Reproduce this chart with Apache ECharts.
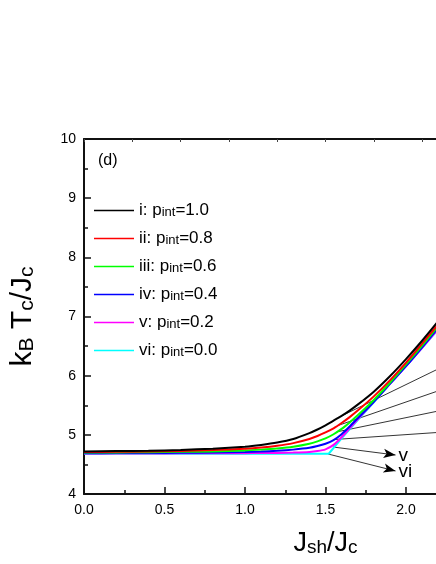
<!DOCTYPE html>
<html><head><meta charset="utf-8">
<script src="https://cdn.jsdelivr.net/npm/echarts@6/dist/echarts.min.js"></script>
<style>html,body{margin:0;padding:0;background:#fff}#c{width:436px;height:564px}</style>
</head><body><div id="c"></div>
<script>
// ---- data ----
const xs = [0, 0.2, 0.4, 0.6, 0.8, 1.0, 1.1, 1.2, 1.3, 1.4, 1.45, 1.5, 1.55, 1.6, 1.65, 1.7, 1.8, 1.9, 2.0, 2.1, 2.2, 2.3, 2.4];
const yI   = [4.72, 4.725, 4.73, 4.745, 4.765, 4.80, 4.83, 4.87, 4.93, 5.03, 5.09, 5.16, 5.24, 5.32, 5.41, 5.51, 5.73, 5.99, 6.28, 6.59, 6.92, 7.26, 7.60];
const yII  = [4.71, 4.713, 4.718, 4.728, 4.742, 4.765, 4.785, 4.815, 4.86, 4.93, 4.98, 5.04, 5.11, 5.20, 5.30, 5.41, 5.65, 5.92, 6.22, 6.54, 6.87, 7.21, 7.55];
const yIII = [4.70, 4.702, 4.706, 4.712, 4.72, 4.735, 4.75, 4.77, 4.80, 4.85, 4.89, 4.94, 5.01, 5.10, 5.21, 5.33, 5.59, 5.88, 6.19, 6.51, 6.84, 7.18, 7.52];
const yIV  = [4.69, 4.691, 4.693, 4.696, 4.70, 4.71, 4.718, 4.73, 4.75, 4.78, 4.81, 4.85, 4.91, 5.01, 5.14, 5.28, 5.56, 5.86, 6.16, 6.48, 6.81, 7.15, 7.49];
const yV   = [4.685, 4.685, 4.686, 4.687, 4.688, 4.69, 4.692, 4.695, 4.70, 4.71, 4.725, 4.755, 4.83, 4.96, 5.11, 5.26, 5.56, 5.86, 6.16, 6.47, 6.79, 7.12, 7.45];
const xsVI = [0, 1.0, 1.52, 1.6, 1.7, 1.8, 1.9, 2.0, 2.1, 2.2, 2.3, 2.4];
const yVI  = [4.68, 4.68, 4.68, 4.94, 5.25, 5.55, 5.86, 6.16, 6.47, 6.78, 7.09, 7.40];

const seriesNames = ['i', 'ii', 'iii', 'iv', 'v', 'vi'];
const pintValues = ['1.0', '0.8', '0.6', '0.4', '0.2', '0.0'];
const seriesColors = ['#000000', '#ff0000', '#00ff00', '#0000ff', '#ff00ff', '#00ffff'];

const leaderStarts = [[1.60, 5.32], [1.58, 5.16], [1.57, 5.05], [1.55, 4.92]];
const leaderEnds   = [[2.25, 6.18], [2.25, 5.79], [2.25, 5.43], [2.25, 5.05]];
const arrowStarts = [[1.547, 4.794], [1.516, 4.676]];
const arrowEnds   = [[1.935, 4.659], [1.935, 4.389]];
const arrowLabels = ['v', 'vi'];

const panelLabel = '(d)';

// ---- chart ----
const FONT = 'Liberation Sans, Arial, sans-serif';
const chart = echarts.init(document.getElementById('c'), null, {renderer: 'canvas'});

function pairs(xarr, yarr) { return xarr.map((x, i) => [x, yarr[i]]); }
const ysets = [yI, yII, yIII, yIV, yV];

const series = seriesNames.map((n, i) => ({
  name: n,
  type: 'line',
  data: i < 5 ? pairs(xs, ysets[i]) : pairs(xsVI, yVI),
  showSymbol: false,
  symbol: 'none',
  smooth: i < 5 ? 0.2 : false,
  lineStyle: {color: seriesColors[i], width: 2},
  itemStyle: {color: seriesColors[i]},
  z: 10 - i,
  silent: true
}));

const mlData = [];
leaderStarts.forEach((s, i) => {
  mlData.push([{coord: s, symbol: 'none'}, {coord: leaderEnds[i], symbol: 'none', label: {show: false}}]);
});
arrowStarts.forEach((s, i) => {
  mlData.push([{coord: s, symbol: 'none'}, {coord: arrowEnds[i], symbol: 'arrow', symbolSize: [7, 12],
    label: {show: true, position: 'end', distance: 3, formatter: arrowLabels[i], fontSize: 19, fontFamily: FONT, color: '#000'}}]);
});

series.push({
  type: 'line',
  data: [],
  silent: true,
  markLine: {
    silent: true,
    animation: false,
    symbol: ['none', 'none'],
    lineStyle: {color: '#000', width: 0.8, type: 'solid'},
    label: {show: false},
    emphasis: {disabled: true},
    data: mlData
  }
});

const subRichSmall = {
  m: {fontSize: 17, lineHeight: 17, verticalAlign: 'top', fontFamily: FONT, color: '#000'},
  s: {fontSize: 13, lineHeight: 13, verticalAlign: 'bottom', padding: [9, 0, 0, 0], fontFamily: FONT, color: '#000'}
};
const subRichX = {
  m: {fontSize: 27, lineHeight: 27, verticalAlign: 'top', fontFamily: FONT, color: '#000'},
  s: {fontSize: 19, lineHeight: 19, verticalAlign: 'bottom', padding: [14, 0, 0, 0], fontFamily: FONT, color: '#000'}
};
const subRichY = {
  m: {fontSize: 30, lineHeight: 30, verticalAlign: 'top', fontFamily: FONT, color: '#000'},
  s: {fontSize: 21, lineHeight: 21, verticalAlign: 'bottom', padding: [14, 0, 0, 0], fontFamily: FONT, color: '#000'}
};

const option = {
  animation: false,
  backgroundColor: '#fff',
  title: {text: panelLabel, left: 93, top: 148, textStyle: {fontSize: 16, fontWeight: 'normal', fontFamily: FONT, color: '#000'}},
  legend: {
    data: seriesNames,
    orient: 'vertical',
    left: 94,
    top: 197,
    padding: 0,
    itemWidth: 40,
    itemHeight: 1.6,
    itemGap: 6,
    icon: 'rect',
    selectedMode: false,
    formatter: name => {
      const i = seriesNames.indexOf(name);
      return '{m|' + name + ': p}{s|int}{m|=' + pintValues[i] + '}';
    },
    textStyle: {rich: subRichSmall, fontFamily: FONT}
  },
  grid: {left: 84, top: 139, width: 483, height: 355, containLabel: false, outerBoundsMode: 'none'},
  xAxis: [{
    type: 'value', min: 0, max: 3.0, interval: 0.5,
    position: 'bottom',
    name: '{m|J}{s|sh}{m|/J}{s|c}',
    nameLocation: 'middle', nameGap: 36,
    nameTextStyle: {rich: subRichX},
    axisLine: {show: true, onZero: false, lineStyle: {color: '#111', width: 2}},
    axisTick: {show: true, inside: true, length: 7, lineStyle: {color: '#111', width: 1.5}},
    minorTick: {show: true, splitNumber: 2, length: 4, lineStyle: {color: '#111', width: 1.5}},
    axisLabel: {fontSize: 14, fontFamily: FONT, color: '#000', margin: 9, formatter: v => v.toFixed(1)},
    splitLine: {show: false}
  }, {
    type: 'value', min: 0, max: 3.0, interval: 0.3,
    position: 'top',
    axisLine: {show: true, onZero: false, lineStyle: {color: '#111', width: 2}},
    axisTick: {show: true, inside: true, length: 3, lineStyle: {color: '#444', width: 1}},
    axisLabel: {show: false},
    splitLine: {show: false}
  }],
  yAxis: [{
    type: 'value', min: 4, max: 10, interval: 1,
    position: 'left',
    name: '{m|k}{s|B}{m| T}{s|c}{m|/J}{s|c}',
    nameLocation: 'middle', nameGap: 46,
    nameTextStyle: {rich: subRichY},
    axisLine: {show: true, onZero: false, lineStyle: {color: '#111', width: 2}},
    axisTick: {show: true, inside: true, length: 7, lineStyle: {color: '#111', width: 1.5}},
    minorTick: {show: true, splitNumber: 2, length: 4, lineStyle: {color: '#111', width: 1.5}},
    axisLabel: {fontSize: 14, fontFamily: FONT, color: '#000', margin: 8},
    splitLine: {show: false}
  }],
  series: series
};
chart.setOption(option);
</script>
</body></html>
